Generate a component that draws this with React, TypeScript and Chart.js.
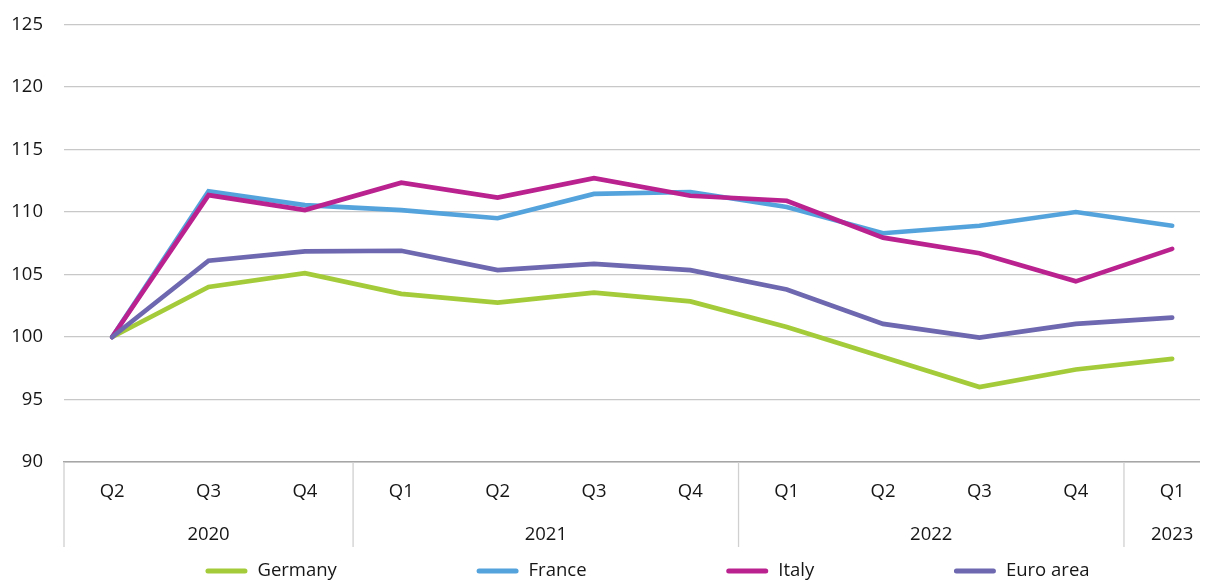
import React, { useEffect, useRef } from "react";
import { Chart, registerables } from "chart.js";

Chart.register(...registerables);

const quarters = ["Q2", "Q3", "Q4", "Q1", "Q2", "Q3", "Q4", "Q1", "Q2", "Q3", "Q4", "Q1"];
const years = ["2020", "2021", "2022", "2023"];
const yearSpans = [3, 4, 4, 1];

const germany = [100, 104.0, 105.1, 103.45, 102.75, 103.55, 102.85, 100.8, 98.4, 96.0, 97.4, 98.25];
const france = [100, 111.65, 110.55, 110.15, 109.5, 111.45, 111.6, 110.4, 108.3, 108.9, 110.0, 108.9];
const italy = [100, 111.35, 110.15, 112.35, 111.15, 112.7, 111.3, 110.9, 107.95, 106.7, 104.45, 107.05];
const euroArea = [100, 106.1, 106.85, 106.9, 105.35, 105.85, 105.35, 103.8, 101.05, 99.95, 101.05, 101.55];

const seriesNames = ["Germany", "France", "Italy", "Euro area"];
const seriesColors = ["#a4cc3a", "#55a3dc", "#b9228f", "#6d68af"];

const yTicks = [90, 95, 100, 105, 110, 115, 120, 125];

const FONT = "'Open Sans', 'Noto Sans', sans-serif";
const FONT_SIZE = 18.5;
const TEXT_COLOR = "#161616";

const extrasPlugin = {
  id: "extras",
  afterDraw(chart: any) {
    const { ctx, chartArea } = chart;
    const xs = chart.scales.x;
    ctx.save();
    // year dividers
    let start = 0;
    const bounds: number[] = [-0.5];
    yearSpans.forEach((s) => {
      start += s;
      bounds.push(start - 0.5);
    });
    ctx.strokeStyle = "#d0d0d0";
    ctx.lineWidth = 1.3;
    bounds.forEach((b) => {
      const px = xs.getPixelForValue(b);
      if (px > chart.width) return;
      ctx.beginPath();
      ctx.moveTo(px, chartArea.bottom);
      ctx.lineTo(px, 539);
      ctx.stroke();
    });
    // year labels
    ctx.fillStyle = TEXT_COLOR;
    ctx.font = `${FONT_SIZE}px ${FONT}`;
    ctx.textAlign = "center";
    ctx.textBaseline = "middle";
    let s0 = 0;
    years.forEach((y, i) => {
      const center = s0 + (yearSpans[i] - 1) / 2;
      s0 += yearSpans[i];
      ctx.fillText(y, xs.getPixelForValue(center), 527);
    });
    // legend
    const lineW = 42;
    const gapText = 10;
    const gapItem = 139.7;
    const widths = seriesNames.map((n) => ctx.measureText(n).width);
    const total =
      widths.reduce((a, w) => a + lineW + gapText + w, 0) + gapItem * (seriesNames.length - 1);
    let x = 639.5 - total / 2;
    const ly = 563;
    ctx.textAlign = "left";
    seriesNames.forEach((n, i) => {
      ctx.strokeStyle = seriesColors[i];
      ctx.lineWidth = 5;
      ctx.lineCap = "round";
      ctx.beginPath();
      ctx.moveTo(x + 2.5, ly);
      ctx.lineTo(x + lineW - 2.5, ly);
      ctx.stroke();
      ctx.fillStyle = TEXT_COLOR;
      ctx.fillText(n, x + lineW + gapText, ly);
      x += lineW + gapText + widths[i] + gapItem;
    });
    ctx.restore();
  },
};

export default function App() {
  const ref = useRef<HTMLCanvasElement | null>(null);

  useEffect(() => {
    document.body.style.overflow = "hidden";
    const all = [germany, france, italy, euroArea];
    const chart = new Chart(ref.current as HTMLCanvasElement, {
      type: "line",
      data: {
        datasets: all.map((vals, k) => ({
          label: seriesNames[k],
          data: vals.map((v, i) => ({ x: i, y: v })),
          borderColor: seriesColors[k],
          backgroundColor: seriesColors[k],
          borderWidth: 4.7,
          pointRadius: 0,
          pointHoverRadius: 0,
          borderCapStyle: "round",
          tension: 0,
          order: all.length - k,
        })),
      },
      options: {
        animation: false,
        responsive: false,
        layout: { padding: { top: 16.5, left: 0, right: 0, bottom: 0 } },
        plugins: {
          legend: { display: false },
          tooltip: { enabled: false },
        },
        scales: {
          x: {
            type: "linear",
            min: -0.5,
            max: 11.372,
            afterBuildTicks: (scale: any) => {
              scale.ticks = quarters.map((_, i) => ({ value: i }));
            },
            afterFit: (scale: any) => {
              scale.height = 119;
              scale.paddingLeft = 0;
              scale.paddingRight = 0;
            },
            ticks: {
              autoSkip: false,
              maxRotation: 0,
              padding: 18.5,
              color: TEXT_COLOR,
              font: { family: FONT, size: FONT_SIZE },
              callback: (v: any) => quarters[Math.round(Number(v))] ?? "",
            },
            grid: { display: false, drawTicks: false },
            border: { display: true, color: "#a6a6a6", width: 1.5 },
          },
          y: {
            min: 90,
            max: 125,
            afterBuildTicks: (scale: any) => {
              scale.ticks = yTicks.map((v) => ({ value: v }));
            },
            afterFit: (scale: any) => {
              scale.width = 56;
              scale.paddingTop = 0;
              scale.paddingBottom = 0;
            },
            ticks: {
              padding: 21,
              color: TEXT_COLOR,
              font: { family: FONT, size: FONT_SIZE },
            },
            grid: { color: "#c8c8c8", lineWidth: 1.3, drawTicks: false },
            border: { display: false },
          },
        },
      },
      plugins: [extrasPlugin],
    });
    return () => chart.destroy();
  }, []);

  return (
    <div style={{ width: 1200, height: 573, position: "relative" }}>
      <canvas ref={ref} width={1200} height={573} style={{ display: "block" }} />
    </div>
  );
}
